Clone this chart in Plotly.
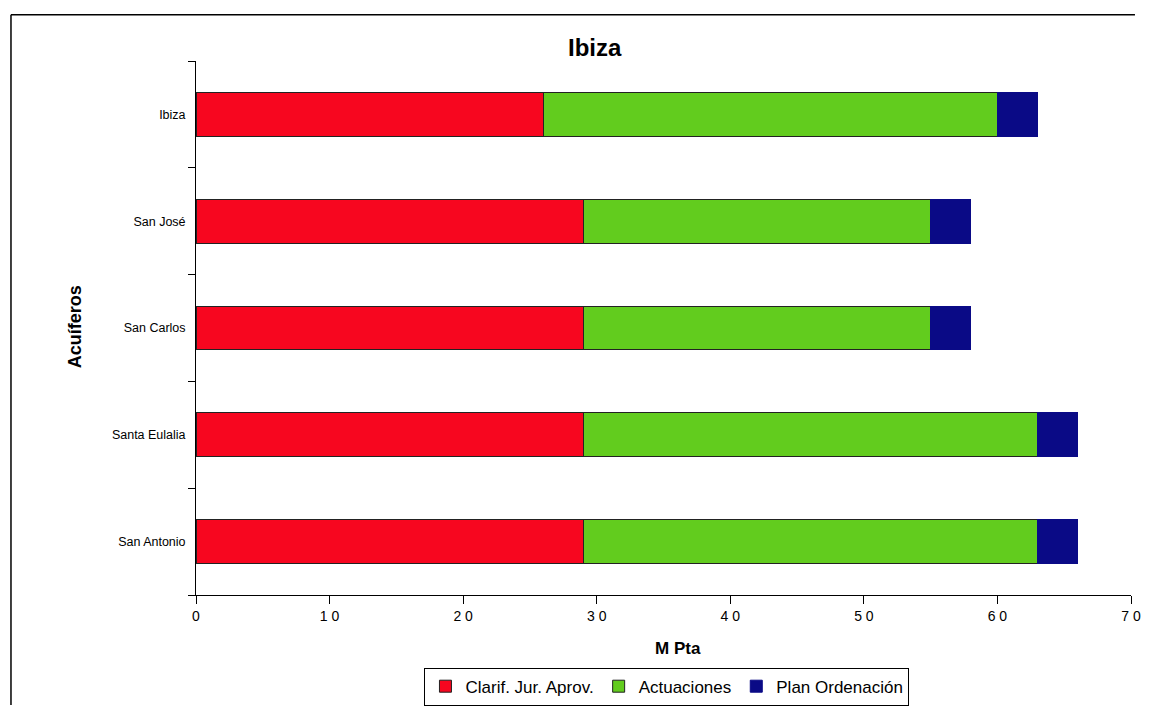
import plotly.graph_objects as go

categories = ["San Antonio", "Santa Eulalia", "San Carlos", "San José", "Ibiza"]
clarif = [29, 29, 29, 29, 26]
actuaciones = [34, 34, 26, 26, 34]
plan = [3, 3, 3, 3, 3]
x_ticks = [0, 10, 20, 30, 40, 50, 60, 70]
x_tick_labels = ["0", "1 0", "2 0", "3 0", "4 0", "5 0", "6 0", "7 0"]

font_family = "Liberation Sans, Arial, sans-serif"
line = dict(color="#222222", width=1)

# figure sits inside the page body (8px margin on every side)
W, H = 1144, 709
L, R, T, B = 188, 11, 53, 112
PW, PH = W - L - R, H - T - B


def px(fx):
    return (fx - L) / PW


def py(fy):
    return (H - B - fy) / PH


fig = go.Figure()
fig.add_trace(go.Bar(y=categories, x=clarif, orientation="h", name="Clarif. Jur. Aprov.",
                     marker=dict(color="#F7061F", line=line)))
fig.add_trace(go.Bar(y=categories, x=actuaciones, orientation="h", name="Actuaciones",
                     marker=dict(color="#62CC1E", line=line)))
fig.add_trace(go.Bar(y=categories, x=plan, orientation="h", name="Plan Ordenación",
                     marker=dict(color="#0A0A86", line=dict(color="#0A0A86", width=1))))

fig.update_layout(
    barmode="stack",
    bargap=0.59,
    width=W, height=H,
    margin=dict(l=L, r=R, t=T, b=B),
    paper_bgcolor="white", plot_bgcolor="white",
    font=dict(family=font_family, color="black"),
    legend=dict(orientation="h", x=px(664), xanchor="center", y=py(671), yanchor="top",
                bordercolor="black", borderwidth=1, font=dict(size=17, family=font_family),
                itemwidth=30, traceorder="normal", tracegroupgap=0),
    showlegend=True,
)

fig.add_annotation(text="<b>Ibiza</b>", xref="paper", yref="paper", x=px(591), y=py(39),
                   xanchor="center", yanchor="middle", showarrow=False,
                   font=dict(size=24, family=font_family, color="black"))
fig.add_annotation(text="<b>Acuíferos</b>", xref="paper", yref="paper", x=px(66), y=py(324),
                   xanchor="center", yanchor="middle", showarrow=False, textangle=-90,
                   font=dict(size=18, family=font_family, color="black"))
fig.add_annotation(text="<b>M Pta</b>", xref="paper", yref="paper", x=px(675), y=py(652),
                   xanchor="center", yanchor="middle", showarrow=False,
                   font=dict(size=17, family=font_family, color="black"))

fig.update_xaxes(
    range=[0, 70], tickvals=x_ticks, ticktext=x_tick_labels,
    showline=True, linecolor="black", linewidth=1,
    ticks="outside", ticklen=8, tickcolor="black",
    showgrid=False, zeroline=False,
    tickfont=dict(size=14, family=font_family),
)
fig.update_yaxes(
    showline=True, linecolor="black", linewidth=1,
    ticks="outside", ticklen=7, tickcolor="black", tickson="boundaries",
    showgrid=False, zeroline=False,
    tickfont=dict(size=12.5, family=font_family),
    ticksuffix="  ",
)

# outer frame lines (top and left) of the scanned chart border
fig.add_shape(type="line", xref="paper", yref="paper",
              x0=px(1), x1=px(1137), y0=py(6), y1=py(6),
              line=dict(color="black", width=1.5))
fig.add_shape(type="line", xref="paper", yref="paper",
              x0=px(1), x1=px(1), y0=py(H), y1=py(6),
              line=dict(color="black", width=1.5))

fig.write_html("out.html")
